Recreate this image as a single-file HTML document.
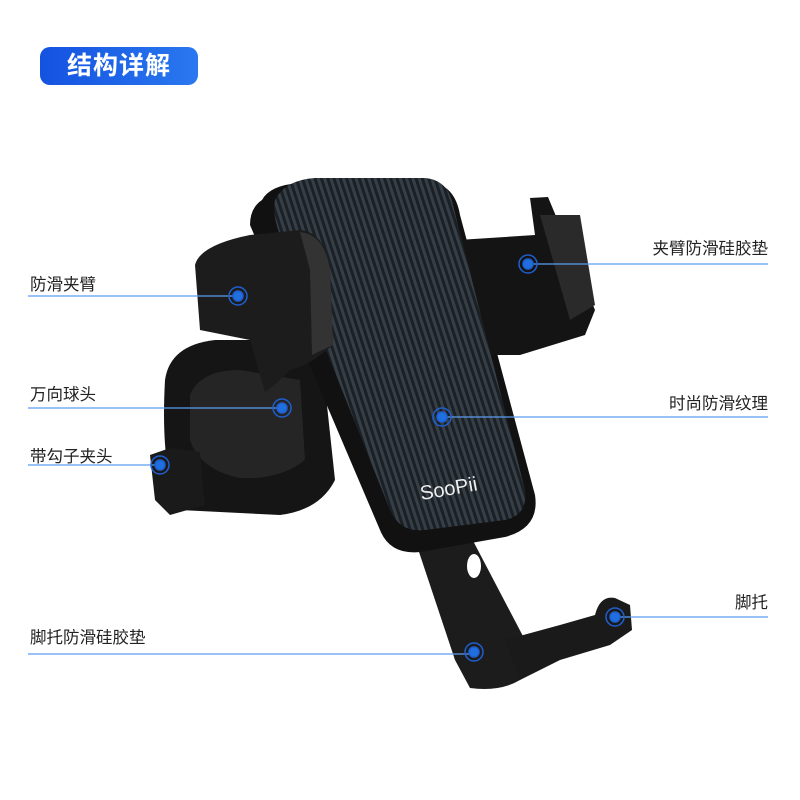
<!DOCTYPE html>
<html><head><meta charset="utf-8"><style>
body{margin:0;width:800px;height:800px;background:#fff;overflow:hidden;position:relative;font-family:"Liberation Sans","Noto Sans CJK SC",sans-serif}
.t{position:absolute;left:40px;top:47px;width:158px;height:38px;border-radius:10px;background:linear-gradient(90deg,#1452e0,#2a78f0);color:#fff;font-size:25px;font-weight:bold;line-height:38px;text-align:center;letter-spacing:1px}
.l{position:absolute;font-size:16.5px;color:#222;white-space:nowrap}
.r{text-align:right;right:32px}
</style></head><body>
<div class="t">结构详解</div>
<svg width="800" height="800" style="position:absolute;left:0;top:0">
<defs>
<pattern id="cf" width="6" height="6" patternUnits="userSpaceOnUse" patternTransform="rotate(-18)">
<rect width="6" height="6" fill="#1b2024"/><rect width="3" height="6" fill="#363f47"/>
</pattern>
</defs>
<path d="M165,380 Q170,345 215,340 L320,340 L335,480 Q320,510 280,515 L180,510 Q160,470 165,380Z" fill="#151515"/>
<path d="M190,395 Q200,370 240,370 L300,380 L305,460 Q280,480 240,478 Q200,470 190,440Z" fill="#252525"/>
<path d="M150,455 L170,448 L200,452 L205,505 L170,515 L155,500Z" fill="#1a1a1a"/>
<path d="M410,525 L470,535 L525,640 L520,680 Q500,692 470,688 L455,660 Z" fill="#1c1c1c"/>
<path d="M505,640 L560,625 L595,615 Q600,595 615,598 L630,605 L632,630 L610,645 L560,660 L520,680Z" fill="#1a1a1a"/>
<ellipse cx="474" cy="566" rx="7" ry="12" fill="#fff"/>
<path d="M262,200 Q270,185 300,183 L430,182 Q455,185 460,215 L535,495 Q540,528 505,537 L420,552 Q390,555 380,530 L250,225 Q250,208 262,200Z" fill="#111"/>
<path d="M458,240 L535,235 L530,198 L548,197 L595,310 L585,335 L520,355 L490,355 L470,300Z" fill="#141414"/>
<path d="M540,215 L580,215 L595,305 L570,320 Z" fill="#2a2a2a"/>
<path d="M275,200 Q285,180 315,178 L425,178 Q448,180 453,205 L525,490 Q528,515 505,520 L425,530 Q400,533 390,510 L280,235 Q272,215 275,200Z" fill="url(#cf)"/>
<text x="420" y="495" fill="#eee" font-size="20" font-family="Liberation Sans,sans-serif" transform="rotate(-10 450 490)">SooPii</text>
<path d="M195,265 Q200,245 250,235 L300,230 Q325,232 330,270 L333,345 Q310,365 290,370 Q275,385 265,392 L250,340 L200,330 Z" fill="#1c1c1c"/>
<path d="M300,232 Q325,235 330,270 L333,345 L312,355 L310,270Z" fill="#333"/>
<g stroke="#5b9cf0" stroke-width="1.3">
<line x1="28" y1="296" x2="238" y2="296"/><line x1="28" y1="408" x2="282" y2="408"/>
<line x1="28" y1="465" x2="160" y2="465"/><line x1="28" y1="654" x2="472" y2="654"/>
<line x1="528" y1="264" x2="768" y2="264"/><line x1="442" y1="417" x2="768" y2="417"/>
<line x1="615" y1="617" x2="768" y2="617"/>
</g>
<g fill="#1f6fe0" stroke="#1f5fcf" stroke-width="1.5">
<g><circle cx="238" cy="296" r="5"/><circle cx="238" cy="296" r="9" fill="none"/></g>
<g><circle cx="282" cy="408" r="5"/><circle cx="282" cy="408" r="9" fill="none"/></g>
<g><circle cx="160" cy="465" r="5"/><circle cx="160" cy="465" r="9" fill="none"/></g>
<g><circle cx="474" cy="652" r="5"/><circle cx="474" cy="652" r="9" fill="none"/></g>
<g><circle cx="528" cy="264" r="5"/><circle cx="528" cy="264" r="9" fill="none"/></g>
<g><circle cx="442" cy="417" r="5"/><circle cx="442" cy="417" r="9" fill="none"/></g>
<g><circle cx="615" cy="617" r="5"/><circle cx="615" cy="617" r="9" fill="none"/></g>
</g>
</svg>
<div class="l" style="left:30px;top:271px">防滑夹臂</div>
<div class="l" style="left:30px;top:381px">万向球头</div>
<div class="l" style="left:30px;top:443px">带勾子夹头</div>
<div class="l" style="left:30px;top:624px">脚托防滑硅胶垫</div>
<div class="l r" style="top:235px">夹臂防滑硅胶垫</div>
<div class="l r" style="top:390px">时尚防滑纹理</div>
<div class="l r" style="top:589px">脚托</div>
</body></html>
